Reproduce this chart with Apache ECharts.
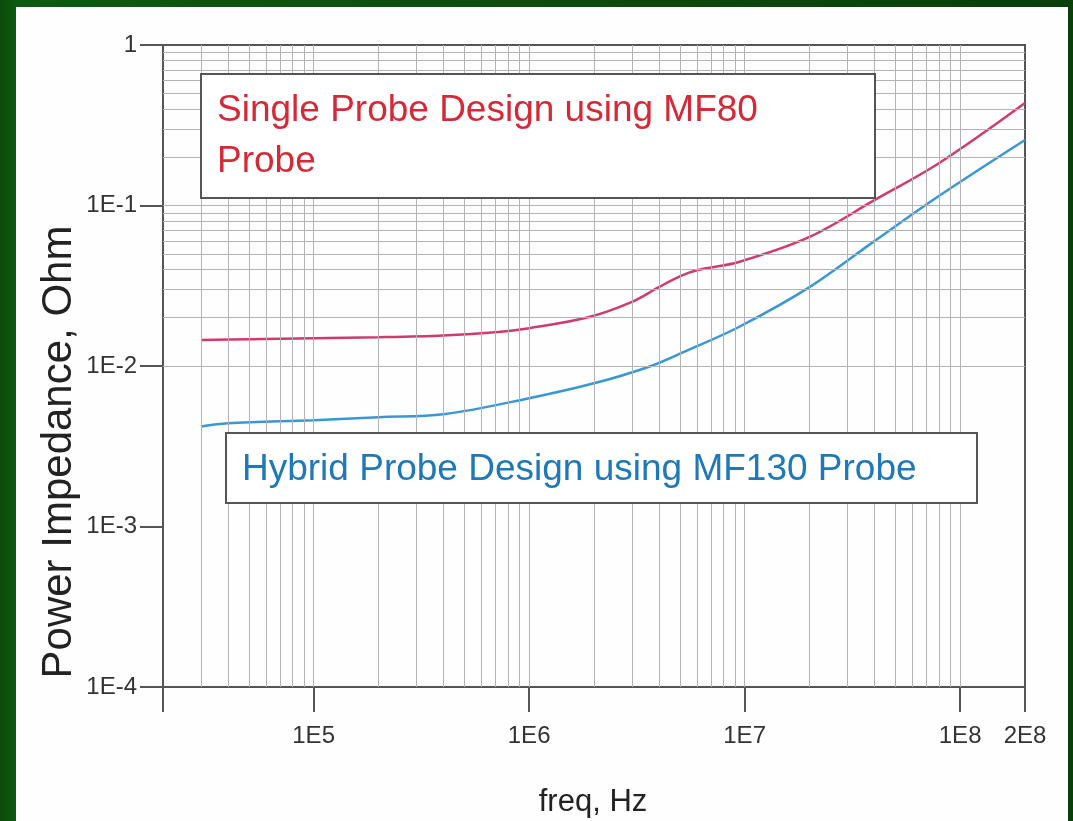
<!DOCTYPE html>
<html>
<head>
<meta charset="utf-8">
<script src="https://cdn.jsdelivr.net/npm/echarts@6/dist/echarts.min.js"></script>
<style>
  html, body { margin: 0; padding: 0; width: 1073px; height: 821px; overflow: hidden;
    background: linear-gradient(90deg, #0b4a0b 0%, #0e5a10 1.5%, #0a3f0a 100%); }
  #panel { position: absolute; left: 16px; top: 7px; width: 1052px; height: 814px; background: #fefefe; }
  #chart { position: absolute; left: 0; top: 0; width: 1073px; height: 821px; }
</style>
</head>
<body>
<div id="panel"></div>
<div id="chart"></div>
<script>
// ---- data ----
const freqSingle = [3e4, 5e4, 1e5, 2e5, 4e5, 7.2e5, 1e6, 1.9e6, 3e6, 4e6, 5e6, 6e6, 9.4e6, 2e7, 4e7, 8e7, 2e8];
const zSingle    = [0.0145, 0.0147, 0.0149, 0.0151, 0.0155, 0.0163, 0.0172, 0.0202, 0.0251, 0.031, 0.0362, 0.0395, 0.0445, 0.0637, 0.108, 0.184, 0.435];
const freqHybrid = [3e4, 4e4, 1e5, 2e5, 4e5, 1e6, 2e6, 3.6e6, 5.2e6, 9.4e6, 2e7, 4e7, 8e7, 2e8];
const zHybrid    = [0.0042, 0.0044, 0.0046, 0.0048, 0.0050, 0.0063, 0.0078, 0.0099, 0.0122, 0.0175, 0.031, 0.060, 0.115, 0.256];
const xRange = [2e4, 2e8];
const yRange = [1e-4, 1];
const labelSingle = ['Single Probe Design using MF80', 'Probe'];
const labelHybrid = 'Hybrid Probe Design using MF130 Probe';
const xTitle = 'freq, Hz';
const yTitle = 'Power Impedance, Ohm';

const SANS = "'Liberation Sans', Arial, sans-serif";

function sciLabel(v) {
  const e = Math.floor(Math.log10(v) + 1e-9);
  const m = Math.round(v / Math.pow(10, e));
  if (e === 0 && m === 1) return '1';
  return m + 'E' + e;
}

// log grid values: 1..9 x 10^k strictly inside range
function logGrid(lo, hi) {
  const out = [];
  for (let e = Math.floor(Math.log10(lo)); e <= Math.ceil(Math.log10(hi)); e++) {
    for (let m = 1; m <= 9; m++) {
      const v = m * Math.pow(10, e);
      if (v > lo * 1.0001 && v < hi * 0.9999) out.push(v);
    }
  }
  return out;
}

const chart = echarts.init(document.getElementById('chart'), null, { renderer: 'canvas' });

const gridLineStyle = { color: '#b3b3b3', width: 1, type: 'solid' };

chart.setOption({
  animation: false,
  backgroundColor: 'transparent',
  grid: { left: 163, right: 48, top: 45, bottom: 134, show: true, borderColor: '#555', borderWidth: 2, backgroundColor: 'transparent' },
  xAxis: {
    type: 'log', logBase: 10, min: xRange[0], max: xRange[1], splitNumber: 4,
    axisLine: { show: true, lineStyle: { color: '#555', width: 2 } },
    axisTick: { show: true, inside: false, length: 25, lineStyle: { color: '#555', width: 2 } },
    splitLine: { show: false },
    axisLabel: {
      show: true, margin: 37, color: '#333', fontFamily: SANS, fontSize: 24,
      showMinLabel: true, showMaxLabel: true,
      formatter: function (v) { return (v < xRange[0] * 1.01) ? '' : sciLabel(v); }
    }
  },
  yAxis: {
    type: 'log', logBase: 10, min: yRange[0], max: yRange[1], splitNumber: 4,
    axisLine: { show: true, lineStyle: { color: '#555', width: 2 } },
    axisTick: { show: true, inside: false, length: 23, lineStyle: { color: '#555', width: 2 } },
    splitLine: { show: false },
    axisLabel: { show: true, margin: 26, color: '#333', fontFamily: SANS, fontSize: 24, formatter: sciLabel }
  },
  series: [
    {
      name: 'grid', type: 'line', data: [], silent: true, z: 1,
      markLine: {
        silent: true, symbol: ['none', 'none'], label: { show: false }, animation: false,
        lineStyle: gridLineStyle,
        data: logGrid(xRange[0], xRange[1]).map(v => ({ xAxis: v }))
          .concat(logGrid(yRange[0], yRange[1]).map(v => ({ yAxis: v })))
      }
    },
    {
      name: 'Single Probe (MF80)', type: 'line', smooth: 0.35, showSymbol: false, z: 3,
      lineStyle: { color: '#cf3b6c', width: 2.5 }, itemStyle: { color: '#cf3b6c' },
      data: freqSingle.map((f, i) => [f, zSingle[i]])
    },
    {
      name: 'Hybrid Probe (MF130)', type: 'line', smooth: 0.35, showSymbol: false, z: 3,
      lineStyle: { color: '#3a97d6', width: 2.5 }, itemStyle: { color: '#3a97d6' },
      data: freqHybrid.map((f, i) => [f, zHybrid[i]])
    }
  ],
  graphic: [
    { type: 'rect', z: 50, shape: { x: 201, y: 74, width: 674, height: 124 },
      style: { fill: '#fff', stroke: '#555', lineWidth: 2 } },
    { type: 'text', z: 51, x: 217, y: 111,
      style: { text: labelSingle[0], fill: '#d42a38', font: '37px ' + SANS, verticalAlign: 'middle', align: 'left' } },
    { type: 'text', z: 51, x: 217, y: 162,
      style: { text: labelSingle[1], fill: '#d42a38', font: '37px ' + SANS, verticalAlign: 'middle', align: 'left' } },
    { type: 'rect', z: 50, shape: { x: 226, y: 433, width: 751, height: 70 },
      style: { fill: '#fff', stroke: '#555', lineWidth: 2 } },
    { type: 'text', z: 51, x: 242, y: 470,
      style: { text: labelHybrid, fill: '#1f78b8', font: '37px ' + SANS, verticalAlign: 'middle', align: 'left' } },
    { type: 'text', z: 51, x: 593, y: 802,
      style: { text: xTitle, fill: '#222', font: '31px ' + SANS, verticalAlign: 'middle', align: 'center' } },
    { type: 'text', z: 51, x: 59, y: 452, rotation: Math.PI / 2,
      style: { text: yTitle, fill: '#222', font: '42px ' + SANS, verticalAlign: 'middle', align: 'center' } }
  ]
});
</script>
</body>
</html>
